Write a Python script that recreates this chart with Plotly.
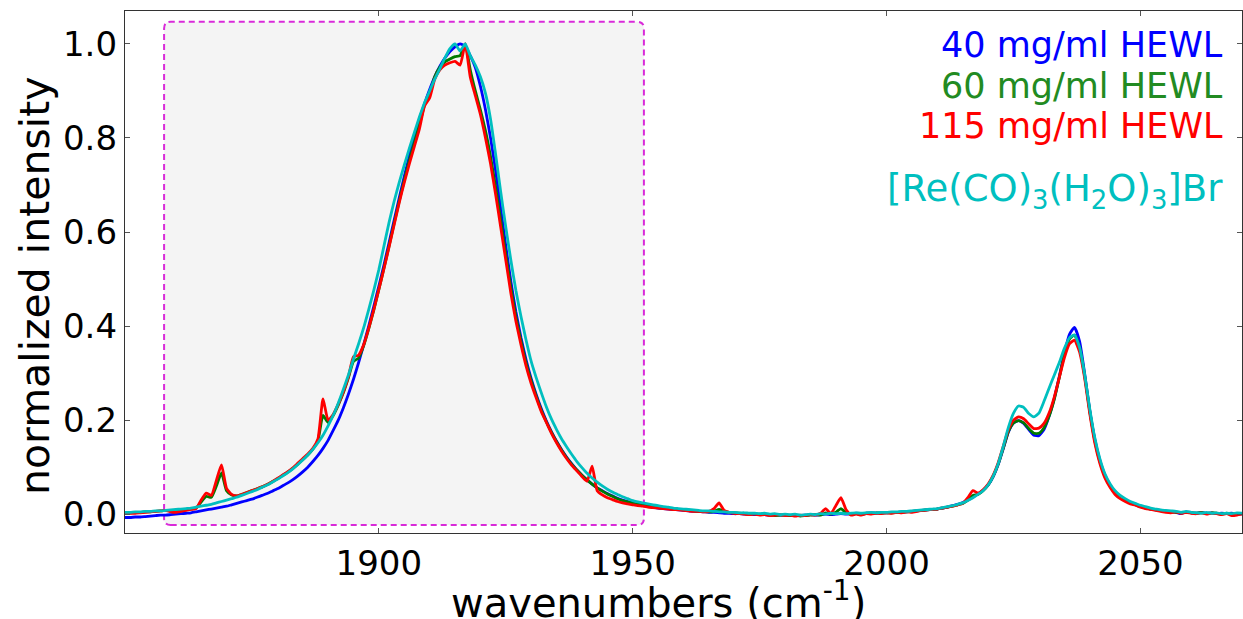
import plotly.graph_objects as go

# ---------------- data ----------------
wavenumbers = list(range(1850, 2071))  # 1 cm^-1 steps, 1850..2070

hewl_40 = [
    -0.007, -0.007, -0.006, -0.006, -0.005, -0.004, -0.003, -0.002, -0.002, -0.001,
    0.000, 0.001, 0.002, 0.003, 0.005, 0.007, 0.009, 0.011, 0.013, 0.015,
    0.017, 0.020, 0.023, 0.026, 0.029, 0.032, 0.036, 0.040, 0.044, 0.049,
    0.054, 0.060, 0.066, 0.073, 0.081, 0.090, 0.100, 0.112, 0.125, 0.140,
    0.157, 0.178, 0.200, 0.226, 0.255, 0.287, 0.322, 0.360, 0.400, 0.442,
    0.485, 0.530, 0.577, 0.625, 0.672, 0.718, 0.762, 0.803, 0.840, 0.873,
    0.903, 0.930, 0.952, 0.970, 0.984, 0.994, 1.000, 0.995, 0.975, 0.950,
    0.910, 0.860, 0.800, 0.730, 0.650, 0.570, 0.495, 0.430, 0.375, 0.328,
    0.288, 0.254, 0.224, 0.198, 0.175, 0.155, 0.137, 0.121, 0.107, 0.094,
    0.083, 0.073, 0.064, 0.056, 0.050, 0.044, 0.039, 0.034, 0.030, 0.027,
    0.024, 0.021, 0.019, 0.017, 0.015, 0.013, 0.012, 0.011, 0.010, 0.009,
    0.008, 0.007, 0.006, 0.006, 0.005, 0.004, 0.004, 0.003, 0.002, 0.002,
    0.001, 0.001, 0.000, 0.000, -0.001, 0.000, -0.001, -0.002, -0.001, -0.002,
    -0.002, -0.003, -0.002, -0.003, -0.002, -0.001, -0.002, -0.001, 0.000, -0.001,
    0.000, 0.001, 0.000, 0.001, 0.002, 0.001, 0.002, 0.003, 0.002, 0.003,
    0.003, 0.004, 0.004, 0.005, 0.005, 0.006, 0.007, 0.008, 0.009, 0.010,
    0.011, 0.013, 0.015, 0.018, 0.021, 0.025, 0.030, 0.036, 0.043, 0.051,
    0.062, 0.080, 0.106, 0.140, 0.175, 0.194, 0.199, 0.193, 0.180, 0.168,
    0.167, 0.180, 0.208, 0.245, 0.292, 0.342, 0.382, 0.397, 0.368, 0.300,
    0.222, 0.160, 0.115, 0.083, 0.062, 0.047, 0.037, 0.030, 0.025, 0.021,
    0.017, 0.014, 0.011, 0.009, 0.008, 0.006, 0.005, 0.004, 0.001, 0.005,
    0.003, 0.002, 0.004, 0.002, 0.003, 0.001, 0.002, 0.001, 0.002, 0.000,
    0.001,
]

hewl_60 = [
    0.003, 0.003, 0.004, 0.004, 0.005, 0.005, 0.006, 0.007, 0.008, 0.008,
    0.007, 0.008, 0.009, 0.011, 0.013, 0.026, 0.038, 0.036, 0.060, 0.088,
    0.050, 0.041, 0.039, 0.042, 0.046, 0.050, 0.054, 0.058, 0.063, 0.069,
    0.075, 0.082, 0.089, 0.097, 0.106, 0.116, 0.126, 0.138, 0.156, 0.210,
    0.195, 0.210, 0.232, 0.258, 0.290, 0.325, 0.332, 0.358, 0.394, 0.434,
    0.478, 0.523, 0.570, 0.618, 0.665, 0.710, 0.752, 0.790, 0.828, 0.870,
    0.892, 0.930, 0.950, 0.962, 0.968, 0.973, 0.975, 1.000, 0.945, 0.900,
    0.860, 0.815, 0.760, 0.695, 0.625, 0.552, 0.482, 0.420, 0.368, 0.322,
    0.284, 0.251, 0.221, 0.196, 0.174, 0.154, 0.136, 0.120, 0.106, 0.094,
    0.083, 0.073, 0.064, 0.056, 0.049, 0.043, 0.038, 0.033, 0.029, 0.026,
    0.023, 0.021, 0.019, 0.017, 0.015, 0.014, 0.013, 0.012, 0.011, 0.010,
    0.009, 0.008, 0.007, 0.006, 0.006, 0.005, 0.006, 0.010, 0.006, 0.004,
    0.003, 0.002, 0.001, 0.000, 0.001, -0.001, 0.000, -0.002, -0.003, -0.002,
    -0.002, -0.003, -0.002, -0.004, -0.003, -0.002, -0.001, -0.002, 0.003, 0.000,
    0.004, 0.012, 0.003, 0.000, 0.001, -0.001, 0.002, 0.001, 0.003, 0.002,
    0.003, 0.003, 0.004, 0.004, 0.005, 0.006, 0.007, 0.008, 0.009, 0.010,
    0.011, 0.013, 0.015, 0.017, 0.020, 0.023, 0.030, 0.040, 0.042, 0.050,
    0.062, 0.081, 0.107, 0.141, 0.176, 0.194, 0.199, 0.194, 0.182, 0.172,
    0.172, 0.184, 0.208, 0.243, 0.290, 0.338, 0.372, 0.381, 0.355, 0.295,
    0.220, 0.157, 0.112, 0.081, 0.060, 0.045, 0.035, 0.029, 0.024, 0.020,
    0.016, 0.013, 0.011, 0.009, 0.007, 0.006, 0.005, 0.004, 0.003, 0.004,
    0.003, 0.002, 0.004, 0.001, 0.003, 0.002, 0.000, 0.002, 0.000, 0.001,
    0.001,
]

hewl_115 = [
    0.001, 0.002, 0.002, 0.003, 0.004, 0.005, 0.006, 0.007, 0.008, 0.005,
    0.004, 0.006, 0.008, 0.010, 0.012, 0.030, 0.045, 0.040, 0.072, 0.105,
    0.055, 0.042, 0.039, 0.042, 0.046, 0.050, 0.054, 0.058, 0.063, 0.069,
    0.076, 0.083, 0.090, 0.098, 0.108, 0.118, 0.128, 0.140, 0.160, 0.245,
    0.200, 0.212, 0.234, 0.260, 0.292, 0.335, 0.338, 0.360, 0.395, 0.435,
    0.478, 0.522, 0.568, 0.615, 0.662, 0.705, 0.745, 0.782, 0.820, 0.868,
    0.885, 0.925, 0.945, 0.955, 0.960, 0.963, 0.955, 1.000, 0.930, 0.890,
    0.850, 0.800, 0.745, 0.680, 0.610, 0.540, 0.470, 0.410, 0.360, 0.315,
    0.278, 0.247, 0.218, 0.195, 0.172, 0.152, 0.134, 0.118, 0.104, 0.092,
    0.080, 0.070, 0.102, 0.050, 0.041, 0.035, 0.031, 0.027, 0.024, 0.022,
    0.020, 0.018, 0.017, 0.015, 0.014, 0.013, 0.012, 0.011, 0.010, 0.009,
    0.008, 0.007, 0.006, 0.006, 0.005, 0.006, 0.012, 0.024, 0.008, 0.004,
    0.002, 0.001, 0.000, -0.001, 0.000, -0.002, -0.001, -0.003, -0.002, -0.001,
    -0.003, -0.002, -0.004, -0.002, -0.003, -0.001, -0.002, 0.002, 0.012, 0.001,
    0.018, 0.035, 0.010, -0.002, 0.000, -0.002, 0.001, 0.000, 0.002, 0.001,
    0.003, 0.002, 0.004, 0.003, 0.005, 0.004, 0.006, 0.008, 0.009, 0.010,
    0.011, 0.013, 0.015, 0.017, 0.020, 0.023, 0.035, 0.050, 0.045, 0.052,
    0.064, 0.083, 0.110, 0.145, 0.180, 0.200, 0.207, 0.203, 0.192, 0.182,
    0.183, 0.193, 0.215, 0.248, 0.290, 0.332, 0.362, 0.370, 0.345, 0.290,
    0.215, 0.152, 0.108, 0.077, 0.057, 0.042, 0.033, 0.027, 0.022, 0.019,
    0.015, 0.012, 0.010, 0.008, 0.006, 0.004, 0.003, 0.005, 0.002, 0.004,
    0.002, 0.001, 0.003, 0.000, 0.002, 0.001, -0.001, 0.001, -0.003, -0.002,
    0.000,
]

re_complex = [
    0.004, 0.004, 0.005, 0.005, 0.006, 0.006, 0.007, 0.007, 0.008, 0.009,
    0.010, 0.011, 0.012, 0.013, 0.015, 0.017, 0.019, 0.021, 0.024, 0.027,
    0.030, 0.033, 0.036, 0.040, 0.044, 0.048, 0.052, 0.057, 0.062, 0.068,
    0.074, 0.081, 0.088, 0.096, 0.105, 0.115, 0.126, 0.138, 0.152, 0.168,
    0.188, 0.210, 0.236, 0.265, 0.296, 0.330, 0.362, 0.396, 0.435, 0.476,
    0.520, 0.570, 0.620, 0.665, 0.705, 0.742, 0.778, 0.812, 0.845, 0.875,
    0.900, 0.925, 0.947, 0.970, 0.990, 1.000, 0.985, 1.000, 0.975, 0.955,
    0.930, 0.895, 0.840, 0.765, 0.685, 0.610, 0.540, 0.475, 0.420, 0.370,
    0.325, 0.290, 0.258, 0.228, 0.202, 0.180, 0.160, 0.143, 0.127, 0.112,
    0.099, 0.087, 0.077, 0.068, 0.060, 0.053, 0.047, 0.042, 0.037, 0.033,
    0.029, 0.026, 0.024, 0.022, 0.020, 0.018, 0.016, 0.015, 0.013, 0.012,
    0.011, 0.010, 0.009, 0.008, 0.007, 0.007, 0.006, 0.005, 0.005, 0.004,
    0.004, 0.003, 0.003, 0.002, 0.002, 0.001, 0.002, 0.000, 0.001, -0.001,
    0.000, -0.001, 0.000, -0.002, -0.001, 0.000, -0.001, 0.001, 0.000, 0.002,
    0.001, 0.002, 0.001, 0.002, 0.003, 0.002, 0.003, 0.004, 0.003, 0.004,
    0.004, 0.005, 0.005, 0.006, 0.006, 0.007, 0.008, 0.009, 0.010, 0.011,
    0.012, 0.014, 0.016, 0.018, 0.021, 0.024, 0.029, 0.035, 0.042, 0.050,
    0.062, 0.081, 0.108, 0.145, 0.185, 0.215, 0.230, 0.227, 0.214, 0.207,
    0.215, 0.240, 0.268, 0.295, 0.322, 0.352, 0.375, 0.381, 0.355, 0.298,
    0.225, 0.163, 0.118, 0.086, 0.065, 0.050, 0.040, 0.033, 0.027, 0.023,
    0.019, 0.016, 0.013, 0.011, 0.009, 0.008, 0.007, 0.006, 0.004, 0.006,
    0.004, 0.003, 0.002, 0.004, 0.002, 0.003, 0.001, 0.002, 0.001, 0.003,
    0.002,
]

series_names = ["40 mg/ml HEWL", "60 mg/ml HEWL", "115 mg/ml HEWL",
                "[Re(CO)<sub>3</sub>(H<sub>2</sub>O)<sub>3</sub>]Br"]
x_ticks = [1900, 1950, 2000, 2050]
y_ticks = [0.0, 0.2, 0.4, 0.6, 0.8, 1.0]
x_range = [1850, 2070]
y_range = [-0.04, 1.07]
# highlighted region (rounded dashed box)
box_x = [1857.7, 1952.2]
box_y = [-0.023, 1.047]

# ---------------- styling ----------------
line_colors = ["#0000ff", "#007a00", "#ff0000", "#00bfbf"]
text_colors = ["#0000ff", "#228b22", "#ff0000", "#00bfbf"]
label_sizes = [35, 35, 35, 37]
FONT = "DejaVu Sans"

fig = go.Figure()
for vals, name, col in zip([hewl_40, hewl_60, hewl_115, re_complex], series_names, line_colors):
    fig.add_trace(go.Scatter(x=wavenumbers, y=vals, mode="lines", name=name,
                             line=dict(color=col, width=2.8, shape="spline", smoothing=0.5),
                             showlegend=False))

# rounded dashed box
x0, x1 = box_x
y0, y1 = box_y
rx, ry = 1.3, 0.014
path = (f"M {x0+rx},{y0} L {x1-rx},{y0} Q {x1},{y0} {x1},{y0+ry} "
        f"L {x1},{y1-ry} Q {x1},{y1} {x1-rx},{y1} L {x0+rx},{y1} "
        f"Q {x0},{y1} {x0},{y1-ry} L {x0},{y0+ry} Q {x0},{y0} {x0+rx},{y0} Z")
fig.add_shape(type="path", path=path, xref="x", yref="y", layer="below",
              fillcolor="#f4f4f4", line=dict(color="#d92ad9", width=2, dash="6px,4px"))

# series labels (right aligned)
label_y = [0.9349, 0.8563, 0.7797, 0.655]
for name, col, yy, sz in zip(series_names, text_colors, label_y, label_sizes):
    fig.add_annotation(x=0.9848, y=yy, xref="paper", yref="paper", text=name,
                       showarrow=False, xanchor="right", yanchor="middle",
                       font=dict(family=FONT, size=sz, color=col))

# axis titles
fig.add_annotation(x=-0.0806, y=0.475, xref="paper", yref="paper",
                   text="normalized intensity", textangle=-90, showarrow=False,
                   xanchor="center", yanchor="middle",
                   font=dict(family=FONT, size=41, color="black"))
fig.add_annotation(x=0.478, y=-0.128, xref="paper", yref="paper",
                   text="wavenumbers (cm<sup>-1</sup>)", showarrow=False,
                   xanchor="center", yanchor="middle",
                   font=dict(family=FONT, size=40, color="black"))

axis_common = dict(showline=True, linecolor="#333333", linewidth=1.3, mirror="ticks",
                   ticks="inside", ticklen=5, tickwidth=1, tickcolor="#555555",
                   showgrid=False, zeroline=False,
                   tickfont=dict(family=FONT, size=34, color="black"))
fig.update_xaxes(range=x_range, tickvals=x_ticks, ticktext=[str(t) for t in x_ticks],
                 **axis_common)
fig.update_yaxes(range=y_range, tickvals=y_ticks, ticktext=[f"{t:.1f}" for t in y_ticks],
                 **axis_common)

fig.update_layout(width=1243, height=619, margin=dict(l=125, r=1, t=11, b=86, autoexpand=False),
                  paper_bgcolor="white", plot_bgcolor="white",
                  font=dict(family=FONT))

fig.write_html("out.html")
